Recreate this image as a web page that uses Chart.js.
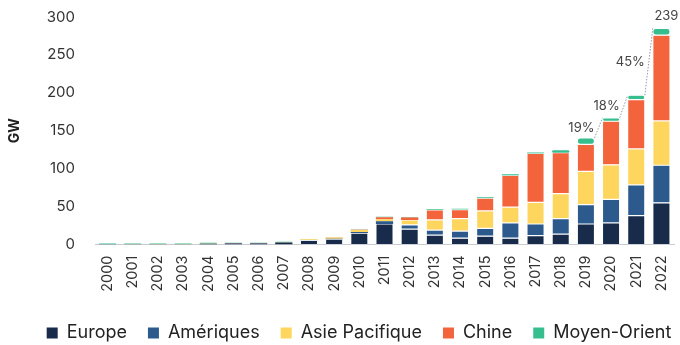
<!DOCTYPE html>
<html>
<head>
<meta charset="utf-8">
<script src="https://cdn.jsdelivr.net/npm/chart.js@4/dist/chart.umd.min.js"></script>
<style>
  html, body { margin: 0; padding: 0; background: #fff; }
  #wrap { width: 680px; height: 345px; position: relative; }
</style>
</head>
<body>
<div id="wrap"><canvas id="c" width="680" height="345"></canvas></div>
<script>
// Installed solar capacity additions per year, by region (GW)
const years = ['2000','2001','2002','2003','2004','2005','2006','2007','2008','2009','2010','2011',
               '2012','2013','2014','2015','2016','2017','2018','2019','2020','2021','2022'];

const europe     = [0.2, 0.2, 0.2, 0.2, 1.0, 1.2, 1.2, 2.5, 5.5, 7.0, 15.0, 27.0,
                    20.4, 12.4, 8.4, 11.0, 8.4, 11.6, 13.8, 27.0, 28.5, 38.0, 55.0];
const ameriques  = [0.05, 0.1, 0.1, 0.1, 0.1, 0.3, 0.3, 0.2, 0.5, 0.7, 1.5, 3.5,
                    5.5, 6.6, 9.3, 10.3, 20.0, 15.4, 20.4, 25.5, 31.0, 40.5, 49.5];
const asiePacif  = [0.15, 0.2, 0.2, 0.2, 0.3, 0.3, 0.3, 0.3, 0.8, 1.5, 2.5, 2.7,
                    6.4, 13.4, 16.5, 23.0, 21.0, 28.6, 32.8, 44.0, 45.5, 47.5, 58.5];
const chine      = [0.01, 0.01, 0.01, 0.01, 0.02, 0.02, 0.02, 0.05, 0.1, 0.2, 0.5, 2.7,
                    3.2, 13.3, 11.8, 16.8, 41.7, 64.4, 54.0, 35.5, 57.5, 65.0, 113.0];
const moyenOrient= [0.9, 0.9, 0.9, 0.9, 0.9, 0.5, 0.5, 0.6, 0.3, 0.3, 0.3, 0.7,
                    0.8, 1.0, 1.3, 1.3, 1.4, 1.3, 3.4, 8.5, 4.5, 5.8, 9.0];

const yTicks = [0, 50, 100, 150, 200, 250, 300];
// Years whose growth over the previous year is annotated
const growthYears = ['2020', '2021', '2022'];
const headlineLabel = '239';

const seriesNames  = ['Europe', 'Amériques', 'Asie Pacifique', 'Chine', 'Moyen-Orient'];
const seriesData   = [europe, ameriques, asiePacif, chine, moyenOrient];
const seriesColors = ['#182b4a', '#2d5a8d', '#fed65e', '#f4643c', '#37be8e'];

const totals = years.map((_, i) => seriesData.reduce((s, d) => s + d[i], 0));

const FONT = 'Inter, "DejaVu Sans", sans-serif';

const growthPlugin = {
  id: 'growth',
  afterLayout(chart) {
    // nudge the legend row to the right
    chart.legend.left += 22;
    chart.legend.right += 22;
  },
  afterDatasetsDraw(chart) {
    const { ctx, scales } = chart;
    const meta = chart.getDatasetMeta(0);
    const y = scales.y;
    ctx.save();
    growthYears.forEach(yr => {
      const i = years.indexOf(yr);
      const prev = meta.data[i - 1], cur = meta.data[i];
      const x1 = prev.x + prev.width / 2, y1 = y.getPixelForValue(totals[i - 1]);
      const x2 = cur.x - cur.width / 2,  y2 = y.getPixelForValue(totals[i]);
      ctx.strokeStyle = '#8f9cad';
      ctx.lineWidth = 1;
      ctx.setLineDash([1.5, 1.5]);
      ctx.beginPath();
      ctx.moveTo(x1, y1);
      ctx.lineTo(x2, y2);
      ctx.stroke();
      const pct = Math.round((totals[i] / totals[i - 1] - 1) * 100) + '%';
      ctx.setLineDash([]);
      ctx.fillStyle = '#444';
      ctx.font = '13px ' + FONT;
      ctx.textAlign = 'right';
      ctx.textBaseline = 'middle';
      ctx.fillText(pct, (x1 + x2) / 2 - 4, (y1 + y2) / 2);
    });
    const last = meta.data[years.length - 1];
    ctx.fillStyle = '#444';
    ctx.font = '13px ' + FONT;
    ctx.textAlign = 'left';
    ctx.textBaseline = 'middle';
    ctx.fillText(headlineLabel, last.x - 7, y.getPixelForValue(totals[years.length - 1]) - 12);
    ctx.restore();
  }
};

new Chart(document.getElementById('c'), {
  type: 'bar',
  data: {
    labels: years,
    datasets: seriesNames.map((name, k) => ({
      label: name,
      data: seriesData[k],
      backgroundColor: seriesColors[k],
      borderColor: '#ffffff',
      borderWidth: ctx => (ctx.raw >= 4 ? 0.6 : 0),
      borderRadius: 3,
      borderSkipped: false,
      barPercentage: 0.72,
      categoryPercentage: 0.95
    }))
  },
  options: {
    responsive: false,
    animation: false,
    layout: { padding: { top: 0, right: 6, left: 0, bottom: 0 } },
    plugins: {
      legend: {
        position: 'bottom',
        maxHeight: 42,
        labels: {
          font: { family: FONT, size: 18 },
          color: '#222',
          boxWidth: 11,
          boxHeight: 11,
          padding: 21
        }
      },
      tooltip: { enabled: false }
    },
    scales: {
      x: {
        stacked: true,
        grid: { display: false, drawTicks: false },
        border: { color: '#c8ccd2', width: 1 },
        afterFit: s => { s.paddingRight = 0; s.paddingLeft = 0; },
        ticks: {
          font: { family: FONT, size: 14.5 },
          color: '#333',
          minRotation: 90,
          maxRotation: 90,
          padding: 11
        }
      },
      y: {
        stacked: true,
        min: 0,
        max: 300,
        grid: { display: false, drawTicks: false },
        border: { display: false },
        afterBuildTicks: s => { s.ticks = yTicks.map(v => ({ value: v })); },
        afterFit: s => { s.width = 95; s.paddingTop = 17; s.paddingBottom = 9; },
        ticks: {
          font: { family: FONT, size: 15 },
          color: '#333',
          padding: 20
        },
        title: {
          display: true,
          text: 'GW',
          font: { family: FONT, size: 14, weight: 'bold' },
          color: '#222',
          padding: { top: 6, bottom: 0 }
        }
      }
    }
  },
  plugins: [growthPlugin]
});
</script>
</body>
</html>
